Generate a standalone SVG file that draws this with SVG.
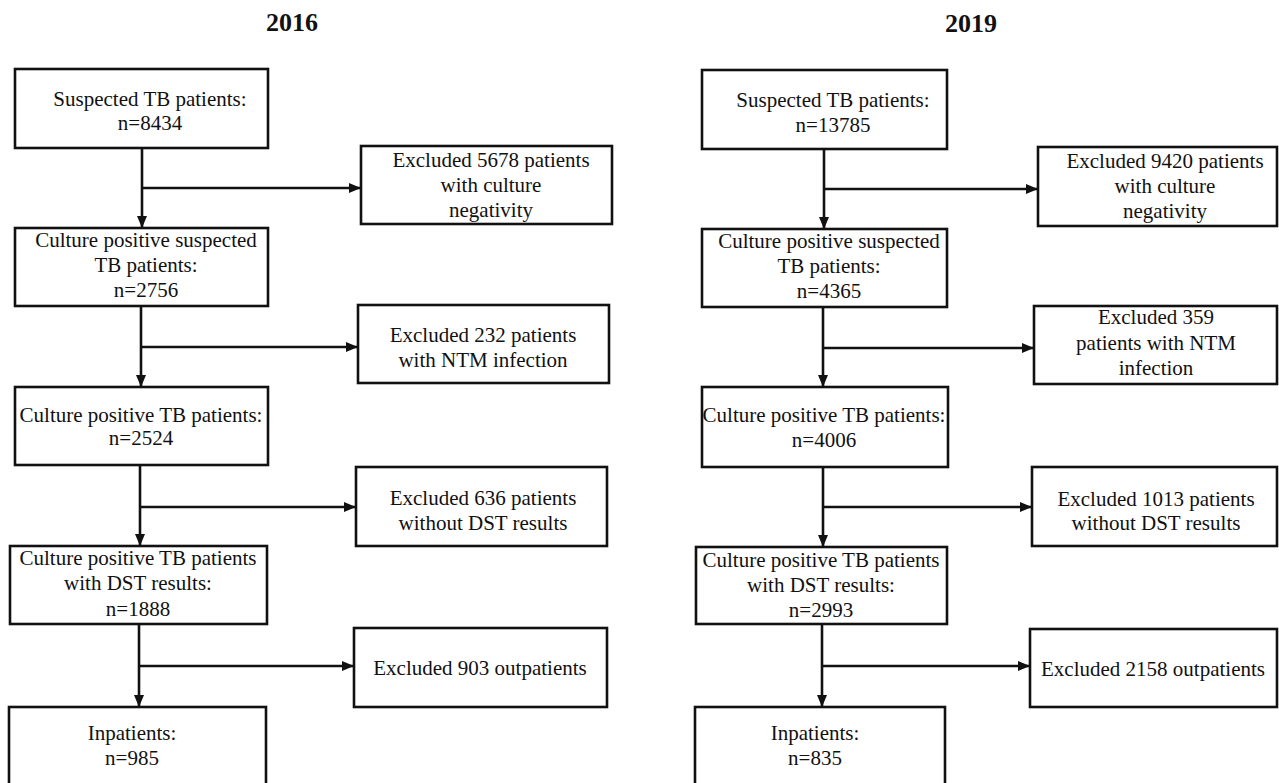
<svg xmlns="http://www.w3.org/2000/svg" width="1279" height="783" viewBox="0 0 1279 783">
<style>
.box{fill:#fff;stroke:#111;stroke-width:2.6}
.t{font-family:"Liberation Serif","Times New Roman",serif;font-size:21px;fill:#111;text-anchor:middle}
.h{font-family:"Liberation Serif","Times New Roman",serif;font-size:26px;font-weight:bold;fill:#111;text-anchor:middle}
.ln{stroke:#111;stroke-width:2.6;fill:none}
</style>
<defs>
<marker id="ah" viewBox="0 0 12 10" refX="12" refY="5" markerWidth="12" markerHeight="10" markerUnits="userSpaceOnUse" orient="auto">
<path d="M0,0 L12,5 L0,10 Z" fill="#111"/>
</marker>
</defs>
<rect width="1279" height="783" fill="#fff"/>
<text class="h" x="292" y="31">2016</text>
<text class="h" x="971" y="32">2019</text>

<g id="connectors">
<line class="ln" x1="142" y1="148" x2="142" y2="228" marker-end="url(#ah)"/>
<line class="ln" x1="142" y1="188" x2="361" y2="188" marker-end="url(#ah)"/>
<line class="ln" x1="141" y1="306" x2="141" y2="387" marker-end="url(#ah)"/>
<line class="ln" x1="141" y1="347" x2="358" y2="347" marker-end="url(#ah)"/>
<line class="ln" x1="140" y1="465" x2="140" y2="546" marker-end="url(#ah)"/>
<line class="ln" x1="140" y1="507" x2="356" y2="507" marker-end="url(#ah)"/>
<line class="ln" x1="139" y1="624" x2="139" y2="707" marker-end="url(#ah)"/>
<line class="ln" x1="139" y1="666" x2="354" y2="666" marker-end="url(#ah)"/>

<line class="ln" x1="824" y1="149" x2="824" y2="229" marker-end="url(#ah)"/>
<line class="ln" x1="824" y1="189" x2="1038" y2="189" marker-end="url(#ah)"/>
<line class="ln" x1="823" y1="307" x2="823" y2="387" marker-end="url(#ah)"/>
<line class="ln" x1="823" y1="348" x2="1034" y2="348" marker-end="url(#ah)"/>
<line class="ln" x1="823" y1="467" x2="823" y2="547" marker-end="url(#ah)"/>
<line class="ln" x1="823" y1="507" x2="1032" y2="507" marker-end="url(#ah)"/>
<line class="ln" x1="822" y1="624" x2="822" y2="707" marker-end="url(#ah)"/>
<line class="ln" x1="822" y1="666" x2="1030" y2="666" marker-end="url(#ah)"/>
</g>

<g id="l1"><rect class="box" x="15" y="69" width="253" height="79"/>
<text class="t" x="150" y="106">Suspected TB patients:</text><text class="t" x="150" y="130">n=8434</text></g>
<g id="le1"><rect class="box" x="361" y="146" width="251" height="78"/>
<text class="t" x="491" y="167">Excluded 5678 patients</text><text class="t" x="491" y="192">with culture</text><text class="t" x="491" y="217">negativity</text></g>
<g id="l2"><rect class="box" x="15" y="228" width="253" height="78"/>
<text class="t" x="146" y="247">Culture positive suspected</text><text class="t" x="146" y="272">TB patients:</text><text class="t" x="146" y="297">n=2756</text></g>
<g id="le2"><rect class="box" x="358" y="305" width="251" height="78"/>
<text class="t" x="483" y="342">Excluded 232 patients</text><text class="t" x="483" y="367">with NTM infection</text></g>
<g id="l3"><rect class="box" x="15" y="387" width="253" height="78"/>
<text class="t" x="141" y="422">Culture positive TB patients:</text><text class="t" x="141" y="445">n=2524</text></g>
<g id="le3"><rect class="box" x="356" y="467" width="251" height="79"/>
<text class="t" x="483" y="505">Excluded 636 patients</text><text class="t" x="483" y="530">without DST results</text></g>
<g id="l4"><rect class="box" x="10" y="546" width="257" height="78"/>
<text class="t" x="138" y="565">Culture positive TB patients</text><text class="t" x="138" y="590">with DST results:</text><text class="t" x="138" y="616">n=1888</text></g>
<g id="le4"><rect class="box" x="354" y="628" width="253" height="79"/>
<text class="t" x="480" y="675">Excluded 903 outpatients</text></g>
<g id="l5"><rect class="box" x="9" y="707" width="257" height="100"/>
<text class="t" x="132" y="740">Inpatients:</text><text class="t" x="132" y="765">n=985</text></g>

<g id="r1"><rect class="box" x="702" y="70" width="245" height="79"/>
<text class="t" x="833" y="107">Suspected TB patients:</text><text class="t" x="833" y="132">n=13785</text></g>
<g id="re1"><rect class="box" x="1038" y="147" width="239" height="79"/>
<text class="t" x="1165" y="168">Excluded 9420 patients</text><text class="t" x="1165" y="193">with culture</text><text class="t" x="1165" y="218">negativity</text></g>
<g id="r2"><rect class="box" x="702" y="229" width="245" height="78"/>
<text class="t" x="829" y="248">Culture positive suspected</text><text class="t" x="829" y="273">TB patients:</text><text class="t" x="829" y="298">n=4365</text></g>
<g id="re2"><rect class="box" x="1034" y="306" width="243" height="78"/>
<text class="t" x="1156" y="324">Excluded 359</text><text class="t" x="1156" y="350">patients with NTM</text><text class="t" x="1156" y="375">infection</text></g>
<g id="r3"><rect class="box" x="702" y="387" width="246" height="80"/>
<text class="t" x="824" y="422">Culture positive TB patients:</text><text class="t" x="824" y="447">n=4006</text></g>
<g id="re3"><rect class="box" x="1032" y="467" width="245" height="79"/>
<text class="t" x="1156" y="506">Excluded 1013 patients</text><text class="t" x="1156" y="530">without DST results</text></g>
<g id="r4"><rect class="box" x="696" y="547" width="251" height="77"/>
<text class="t" x="821" y="567">Culture positive TB patients</text><text class="t" x="821" y="592">with DST results:</text><text class="t" x="821" y="617">n=2993</text></g>
<g id="re4"><rect class="box" x="1030" y="629" width="247" height="78"/>
<text class="t" x="1153" y="676">Excluded 2158 outpatients</text></g>
<g id="r5"><rect class="box" x="695" y="707" width="250" height="100"/>
<text class="t" x="815" y="740">Inpatients:</text><text class="t" x="815" y="765">n=835</text></g>
</svg>
